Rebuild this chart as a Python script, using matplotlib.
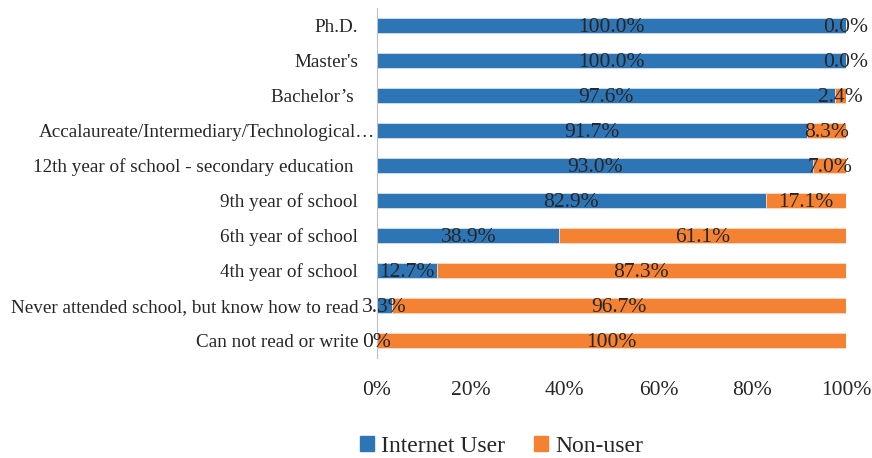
import numpy as np
import matplotlib.pyplot as plt
from matplotlib.patches import Patch
from matplotlib.transforms import ScaledTranslation

levels = ["Ph.D.", "Master's", "Bachelor\u2019s ", "Accalaureate/Intermediary/Technological\u2026",
          "12th year of school - secondary education ", "9th year of school",
          "6th year of school", "4th year of school",
          "Never attended school, but know how to read", "Can not read or write"]
users = [100.0, 100.0, 97.6, 91.7, 93.0, 82.9, 38.9, 12.7, 3.3, 0.0]
non_users = [0.0, 0.0, 2.4, 8.3, 7.0, 17.1, 61.1, 87.3, 96.7, 100.0]
user_labels = ["100.0%", "100.0%", "97.6%", "91.7%", "93.0%", "82.9%", "38.9%", "12.7%", "3.3%", "0%"]
non_labels = ["0.0%", "0.0%", "2.4%", "8.3%", "7.0%", "17.1%", "61.1%", "87.3%", "96.7%", "100%"]

BLUE = "#2E75B6"
ORANGE = "#F58233"
TEXT = "#262626"
plt.rcParams['font.family'] = ['Liberation Serif', 'DejaVu Serif']

fig = plt.figure(figsize=(8.72, 4.58), dpi=100)
ax = fig.add_axes([0.4323, 0.2183, 0.9702 - 0.4323, 0.9825 - 0.2183])

y = np.arange(len(levels))
u = np.array(users) / 100
n = np.array(non_users) / 100
ax.barh(y, u, height=0.43, color=BLUE, edgecolor="#DDEBF7", linewidth=0.5)
ax.barh(y, n, left=u, height=0.43, color=ORANGE, edgecolor="#FBE0CC", linewidth=0.5)

for i in range(len(levels)):
    ax.text(u[i] / 2, y[i] + 0.05, user_labels[i], ha="center", va="center", fontsize=15.5, color=TEXT)
    ax.text(u[i] + n[i] / 2, y[i] + 0.05, non_labels[i], ha="center", va="center", fontsize=15.5, color=TEXT)

ax.set_ylim(len(levels) - 0.5, -0.5)
ax.set_xlim(0, 1)
ax.set_yticks(y)
ax.set_yticklabels(levels, fontsize=13.8, color=TEXT)
ax.set_xticks([0, 0.2, 0.4, 0.6, 0.8, 1.0])
ax.set_xticklabels(["0%", "20%", "40%", "60%", "80%", "100%"], fontsize=15.5, color=TEXT)
ax.tick_params(axis="y", length=0, pad=13.5)
ax.tick_params(axis="x", length=0, pad=16.5)

# the truncated label sits right up against the axis
lbl = ax.get_yticklabels()[3]
lbl.set_transform(lbl.get_transform() + ScaledTranslation(12 / 72, 0, fig.dpi_scale_trans))

for s in ["top", "right", "bottom"]:
    ax.spines[s].set_visible(False)
ax.spines["left"].set_color("#BFBFBF")
ax.spines["left"].set_linewidth(0.8)

handles = [Patch(color=BLUE, label="Internet User"), Patch(color=ORANGE, label="Non-user")]
fig.legend(handles=handles, loc="center", bbox_to_anchor=(0.575, 0.026), ncol=2, frameon=False,
           fontsize=17, handlelength=0.6, handleheight=0.6, handletextpad=0.3, columnspacing=1.2,
           labelcolor=TEXT, borderpad=0.2)

fig.savefig("out.png", dpi=100)
